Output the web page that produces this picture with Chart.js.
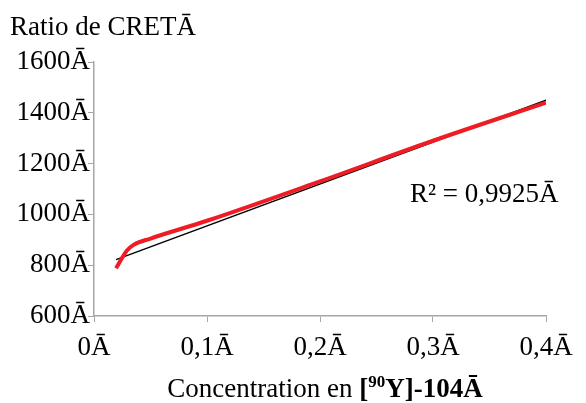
<!DOCTYPE html>
<html>
<head>
<meta charset="utf-8">
<script src="https://cdn.jsdelivr.net/npm/chart.js@4/dist/chart.umd.min.js"></script>
<style>
  html, body { margin: 0; padding: 0; background: #fff; }
  #wrap { position: relative; width: 586px; height: 403px; }
</style>
</head>
<body>
<div id="wrap"><canvas id="cret" width="586" height="403"></canvas></div>
<script>
// data
var concentration = [0.0195, 0.025, 0.029, 0.035, 0.05, 0.1, 0.2, 0.3, 0.4];
var ratioCret = [788, 830, 857, 880, 905, 975, 1130, 1290, 1440];
var trendX = [0.0195, 0.4];
var trendY = [822, 1450];
var yTicks = [600, 800, 1000, 1200, 1400, 1600];
var xTicks = [0, 0.1, 0.2, 0.3, 0.4];
var r2Label = 'R² = 0,9925Ā';
var yTitle = 'Ratio de CRETĀ';

var serif = "'Liberation Serif', 'Times New Roman', serif";

function pts(xs, ys) {
  return xs.map(function (x, i) { return {x: x, y: ys[i]}; });
}

// titles and R² text, drawn on the canvas
var labelsPlugin = {
  id: 'labels',
  afterDraw: function (chart) {
    var c = chart.ctx;
    c.save();
    c.fillStyle = '#000';
    c.textBaseline = 'alphabetic';
    c.font = '27px ' + serif;
    c.textAlign = 'left';
    c.fillText(yTitle, 10, 35);
    c.fillText(r2Label, 410, 202);

    // x title: normal part + bold part with superscript
    var y0 = 397;
    var parts = [
      {t: 'Concentration en ', f: '27px ' + serif, dy: 0},
      {t: '[', f: 'bold 27px ' + serif, dy: 0},
      {t: '90', f: 'bold 17px ' + serif, dy: -10},
      {t: 'Y]-104Ā', f: 'bold 27px ' + serif, dy: 0}
    ];
    var total = 0;
    parts.forEach(function (p) { c.font = p.f; p.w = c.measureText(p.t).width; total += p.w; });
    var x = 325 - total / 2;
    parts.forEach(function (p) {
      c.font = p.f;
      c.fillText(p.t, x, y0 + p.dy);
      x += p.w;
    });
    c.restore();
  }
};

var ctx = document.getElementById('cret').getContext('2d');
var chart = new Chart(ctx, {
  type: 'scatter',
  data: {
    datasets: [{
        data: pts(trendX, trendY),
        showLine: true,
        borderColor: '#000',
        borderWidth: 1.5,
        pointRadius: 0,
        order: 2
      }, {
        data: pts(concentration, ratioCret),
        showLine: true,
        borderColor: '#ee1c25',
        borderWidth: 4,
        cubicInterpolationMode: 'monotone',
        pointRadius: 0,
        order: 1
    }]
  },
  options: {
    responsive: false,
    animation: false,
    layout: { padding: { top: 62, right: 40, left: 0, bottom: 0 } },
    scales: {
      x: {
        type: 'linear',
        min: 0,
        max: 0.4,
        afterBuildTicks: function (s) { s.ticks = xTicks.map(function (v) { return {value: v}; }); },
        afterFit: function (s) { s.height = 87; },
        grid: { drawOnChartArea: false, tickLength: 6, color: '#a6a6a6' },
        border: { color: '#a6a6a6', width: 1.5 },
        ticks: {
          color: '#000',
          padding: 10,
          font: { family: serif, size: 27 },
          callback: function (v) { return String(v).replace('.', ',') + 'Ā'; }
        }
      },
      y: {
        min: 600,
        max: 1600,
        afterBuildTicks: function (s) { s.ticks = yTicks.map(function (v) { return {value: v}; }); },
        afterFit: function (s) { s.width = 94; },
        grid: { drawOnChartArea: false, tickLength: 6, color: '#a6a6a6' },
        border: { color: '#a6a6a6', width: 1.5 },
        ticks: {
          color: '#000',
          padding: -2,
          font: { family: serif, size: 27 },
          callback: function (v) { return v + 'Ā'; }
        }
      }
    },
    plugins: {
      legend: { display: false },
      tooltip: { enabled: false }
    }
  },
  plugins: [labelsPlugin]
});
</script>
</body>
</html>
